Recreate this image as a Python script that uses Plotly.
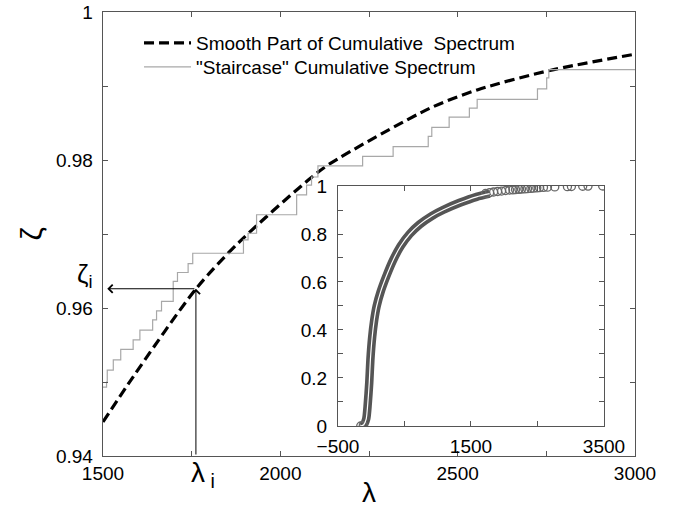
import plotly.graph_objects as go

# ---------------- data ----------------
# smooth part of the cumulative spectrum (main panel)
smooth_lam = [1500, 1585, 1764, 1886, 2084, 2140, 2422, 2557, 2760, 3000]
smooth_zeta = [0.9446, 0.9507, 0.9627, 0.9690, 0.9775, 0.9795, 0.9870, 0.9895, 0.9921, 0.9943]

# "staircase" cumulative spectrum (jump positions and levels after each jump)
stair_lam = [1500, 1510, 1512, 1529, 1550, 1585, 1604, 1640, 1651, 1665, 1698, 1710, 1740, 1753,
             1896, 1909, 1933, 2046, 2074, 2088, 2106, 2232, 2318, 2417, 2427, 2476, 2533, 2555,
             2725, 2751, 2757, 3000]
stair_zeta = [0.9493, 0.9500, 0.9516, 0.9530, 0.9544, 0.9557, 0.9570, 0.9584, 0.9596, 0.9609,
              0.9636, 0.9648, 0.9660, 0.9674, 0.9692, 0.9701, 0.9726, 0.9753, 0.9766, 0.9777,
              0.9792, 0.9805, 0.9818, 0.9832, 0.9844, 0.9858, 0.9870, 0.9882, 0.9896, 0.9911,
              0.9922, 0.9922]

# marked point (lambda_i, zeta_i)
lam_i = 1762
zeta_i = 0.9626

# inset: dense part of the full cumulative spectrum
inset_band_lam = [-158, -113, -75, -53, -30, -13, 14, 44, 82, 142, 228, 327, 443, 578,
                  729, 909, 1079, 1330, 1585, 1780]
inset_band_zeta = [0.000, 0.005, 0.030, 0.090, 0.180, 0.275, 0.370, 0.440, 0.500, 0.560,
                   0.625, 0.690, 0.750, 0.800, 0.840, 0.875, 0.900, 0.930, 0.955, 0.968]
# inset: sparse high eigenvalues (individual circles)
inset_pts_lam = [-158, -120, 1720, 1780, 1840, 1900, 1960, 2020, 2080, 2130, 2170, 2220, 2260, 2310,
                 2350, 2400, 2440, 2490, 2530, 2590, 2650, 2760, 2950, 3010, 3180, 3260, 3480]
inset_pts_zeta = [0.000, 0.002, 0.969, 0.972, 0.975, 0.977, 0.979, 0.981, 0.983, 0.984, 0.985,
                  0.986, 0.987, 0.988, 0.989, 0.990, 0.991, 0.992, 0.993, 0.994, 0.995, 0.996,
                  0.997, 0.998, 0.999, 0.9995, 1.000]

main_xticks = [1500, 2000, 2500, 3000]
main_yticks = [0.94, 0.96, 0.98, 1.0]
main_ytext = ["0.94", "0.96", "0.98", "1"]
inset_xticks = [-500, 1500, 3500]
inset_yticks = [0, 0.2, 0.4, 0.6, 0.8, 1.0]
inset_ytext = ["0", "0.2", "0.4", "0.6", "0.8", "1"]

legend_names = ["Smooth Part of Cumulative  Spectrum", "\"Staircase\" Cumulative Spectrum"]

FONT = "Liberation Sans, Arial, Helvetica, sans-serif"
FRAME = "#555555"
FS = 19
NBSP = "\u00a0"

fig = go.Figure()

fig.add_trace(go.Scatter(
    x=smooth_lam, y=smooth_zeta, mode="lines", name=legend_names[0], legend="legend",
    line=dict(color="black", width=3.2, dash="10px,5px", shape="spline", smoothing=0.8),
    xaxis="x", yaxis="y"))
fig.add_trace(go.Scatter(
    x=stair_lam, y=stair_zeta, mode="lines", name=legend_names[1], legend="legend2",
    line=dict(color="#a8a8a8", width=1.2, shape="hv"),
    xaxis="x", yaxis="y"))

# inset traces
fig.add_trace(go.Scatter(
    x=inset_band_lam, y=inset_band_zeta, mode="lines", showlegend=False,
    line=dict(color="#555555", width=8.5, shape="spline", smoothing=0.6),
    xaxis="x2", yaxis="y2"))
fig.add_trace(go.Scatter(
    x=inset_pts_lam, y=inset_pts_zeta, mode="markers", showlegend=False,
    marker=dict(symbol="circle-open", size=8, color="#666666", line=dict(width=1.3, color="#666666")),
    xaxis="x2", yaxis="y2"))
fig.add_trace(go.Scatter(
    x=inset_band_lam, y=inset_band_zeta, mode="lines", showlegend=False,
    line=dict(color="white", width=1.2, shape="spline", smoothing=0.6),
    xaxis="x2", yaxis="y2"))

tickfont = dict(family=FONT, size=FS, color="black")
legfont = dict(family=FONT, size=FS, color="black")

fig.update_layout(
    width=680, height=508,
    margin=dict(l=103, r=45, t=12, b=52, autoexpand=False),
    paper_bgcolor="white", plot_bgcolor="white",
    font=dict(family=FONT, size=FS, color="black"),
    xaxis=dict(
        domain=[0, 1], range=[1500, 3000], tickvals=main_xticks, automargin=False,
        ticks="inside", ticklen=5, tickcolor=FRAME, tickwidth=1,
        minor=dict(dtick=250, tick0=1500, ticks="inside", ticklen=5, tickcolor=FRAME),
        showline=True, linecolor=FRAME, linewidth=1, mirror="ticks",
        showgrid=False, zeroline=False, tickfont=tickfont, ticklabelstandoff=0,
        title=dict(text="λ", font=dict(family=FONT, size=28), standoff=2),
    ),
    yaxis=dict(
        domain=[0, 1], range=[0.94, 1.0], tickvals=main_yticks,
        ticktext=[t + NBSP for t in main_ytext],
        automargin=False,
        ticks="inside", ticklen=5, tickcolor=FRAME, tickwidth=1,
        minor=dict(dtick=0.01, tick0=0.94, ticks="inside", ticklen=5, tickcolor=FRAME),
        showline=True, linecolor=FRAME, linewidth=1, mirror="ticks",
        showgrid=False, zeroline=False, tickfont=tickfont,
        title=dict(text="ζ", font=dict(family=FONT, size=30), standoff=4),
    ),
    xaxis2=dict(
        domain=[0.4417, 0.9417], anchor="y2", range=[-500, 3500], tickvals=inset_xticks,
        automargin=False,
        ticks="inside", ticklen=5, tickcolor=FRAME,
        minor=dict(dtick=1000, tick0=-500, ticks="inside", ticklen=5, tickcolor=FRAME),
        showline=True, linecolor=FRAME, linewidth=1, mirror="ticks",
        showgrid=False, zeroline=False, tickfont=tickfont, ticklabelstandoff=3,
    ),
    yaxis2=dict(
        domain=[0.0676, 0.6081], anchor="x2", range=[0, 1.0], tickvals=inset_yticks,
        ticktext=inset_ytext, automargin=False,
        ticks="inside", ticklen=5, tickcolor=FRAME,
        minor=dict(dtick=0.1, tick0=0, ticks="inside", ticklen=5, tickcolor=FRAME),
        showline=True, linecolor=FRAME, linewidth=1, mirror="ticks",
        showgrid=False, zeroline=False, tickfont=tickfont, ticklabelstandoff=6,
    ),
    legend=dict(
        x=0.0677, y=0.9302, xanchor="left", yanchor="middle",
        bgcolor="rgba(0,0,0,0)", borderwidth=0, font=legfont, itemwidth=47,
    ),
    legend2=dict(
        x=0.0677, y=0.8761, xanchor="left", yanchor="middle",
        bgcolor="rgba(0,0,0,0)", borderwidth=0, font=legfont, itemwidth=47,
    ),
    showlegend=True,
)

# arrows marking lambda_i and zeta_i
fig.add_annotation(x=lam_i, y=zeta_i, ax=lam_i, ay=0.94, xref="x", yref="y", axref="x", ayref="y",
                   text="", showarrow=True, arrowhead=4, arrowsize=1.6, arrowwidth=1,
                   arrowcolor="black", standoff=0, startstandoff=0)
fig.add_annotation(x=1512, y=zeta_i, ax=lam_i, ay=zeta_i, xref="x", yref="y", axref="x", ayref="y",
                   text="", showarrow=True, arrowhead=4, arrowsize=1.6, arrowwidth=1,
                   arrowcolor="black", standoff=0, startstandoff=0)
fig.add_annotation(x=lam_i, y=0.94, xref="x", yref="y", text="λ<sub> i</sub>", showarrow=False,
                   yshift=-18, xshift=7, font=dict(family=FONT, size=28, color="black"))
fig.add_annotation(x=1500, y=zeta_i, xref="x", yref="y", text="ζ<sub>i</sub>", showarrow=False,
                   xshift=-18, yshift=13, font=dict(family=FONT, size=26, color="black"))

fig.write_html("out.html")
